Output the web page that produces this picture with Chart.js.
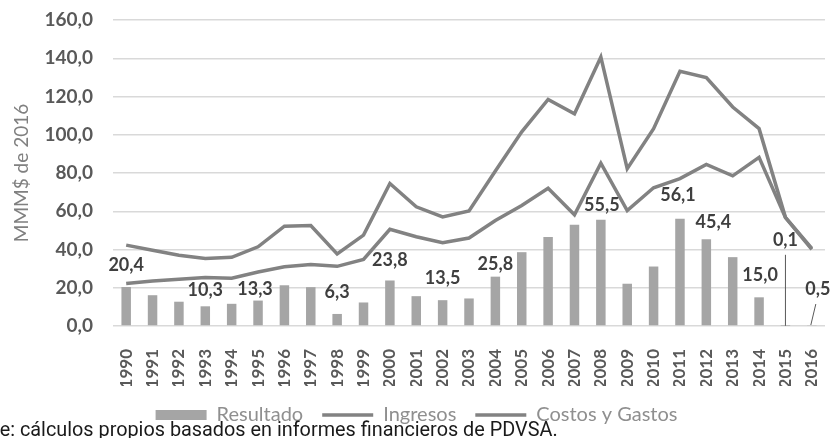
<!DOCTYPE html>
<html>
<head>
<meta charset="utf-8">
<script src="https://cdn.jsdelivr.net/npm/chart.js@4.4.0/dist/chart.umd.min.js"></script>
<style>
  html, body { margin: 0; padding: 0; background: #fff; overflow: hidden; }
  #wrap { position: relative; width: 834px; height: 438px; overflow: hidden; }
  #fuente {
    position: absolute; left: 0; top: 419px;
    font: 20px/20px Roboto, sans-serif;
    color: #1a1a1a; white-space: nowrap;
    transform-origin: 0 0;
  }
</style>
</head>
<body>
<div id="wrap">
  <canvas id="chart" width="834" height="438"></canvas>
  <div id="fuente"><span id="cut">Fuent</span>e: cálculos propios basados en informes financieros de PDVSA.</div>
</div>
<script>
const years = ['1990', '1991', '1992', '1993', '1994', '1995', '1996', '1997', '1998',
  '1999', '2000', '2001', '2002', '2003', '2004', '2005', '2006', '2007', '2008',
  '2009', '2010', '2011', '2012', '2013', '2014', '2015', '2016']

// MMM$ de 2016
const resultado = [20.4, 16.1, 12.7, 10.3, 11.6, 13.3, 21.3, 20.3, 6.3,
  12.3, 23.8, 15.6, 13.5, 14.4, 25.8, 38.6, 46.6, 53.0, 55.5,
  22.1, 31.1, 56.1, 45.4, 36.0, 15.0, 0.1, 0.5]
const ingresos = [42.3, 39.6, 37.0, 35.3, 35.9, 41.4, 52.2, 52.5, 37.7,
  47.5, 74.5, 62.3, 57.0, 60.2, 81.0, 101.5, 118.5, 111.0, 140.6,
  82.3, 103.2, 133.2, 129.9, 114.5, 103.2, 56.8, 40.6]
const costos = [22.2, 23.5, 24.5, 25.3, 25.0, 28.2, 31.0, 32.2, 31.2,
  34.8, 50.6, 46.7, 43.5, 46.0, 55.2, 63.0, 72.0, 58.2, 85.1,
  60.4, 72.3, 77.1, 84.5, 78.5, 88.2, 56.7, 40.1]

const yTicks = [0, 20, 40, 60, 80, 100, 120, 140, 160]

// which bars get a value label, and where it sits relative to the bar top [dx, dy]
const labelShift = {
  '1990': [0, 22], '1993': [0, 16], '1995': [-3, 11], '1998': [0, 22],
  '2000': [0, 20], '2002': [0, 22], '2004': [0, 12], '2008': [1, 15],
  '2011': [-2, 24], '2012': [7, 17], '2014': [1, 22], '2015': [0, 86],
  '2016': [6, 36]
}
// callout lines for the tiny bars [dx1, dy1, dx2, dy2]
const leaders = {
  '2015': [0, 71, 0, 0],
  '2016': [4, 21, -1, 0]
}

const fmt = v => v.toFixed(1).replace('.', ',')

const barLabels = {
  id: 'barLabels',
  afterDatasetsDraw(chart) {
    const ctx = chart.ctx
    const bars = chart.getDatasetMeta(0).data
    ctx.save()
    ctx.strokeStyle = '#595959'
    ctx.lineWidth = 1
    Object.keys(leaders).forEach(year => {
      const bar = bars[years.indexOf(year)]
      const l = leaders[year]
      ctx.beginPath()
      ctx.moveTo(bar.x + l[0], bar.y - l[1])
      ctx.lineTo(bar.x + l[2], bar.y - l[3])
      ctx.stroke()
    })
    ctx.font = 'bold 18px Lato'
    ctx.fillStyle = '#3f3f3f'
    ctx.textAlign = 'center'
    ctx.textBaseline = 'middle'
    years.forEach((year, i) => {
      const s = labelShift[year]
      if (!s) return
      ctx.fillText(fmt(resultado[i]), bars[i].x + s[0], bars[i].y - s[1])
    })
    ctx.restore()
  }
}

var ctx = document.getElementById('chart').getContext('2d')
var chart = new Chart(ctx, {
  type: 'bar',
  data: {
    labels: years,
    datasets: [{
      type: 'bar',
      label: 'Resultado',
      data: resultado,
      backgroundColor: '#a5a5a5',
      barPercentage: 0.72,
      categoryPercentage: 0.5,
      pointStyle: 'rect'
    }, {
      type: 'line',
      label: 'Ingresos',
      data: ingresos,
      borderColor: '#828282',
      backgroundColor: '#828282',
      borderWidth: 3.5,
      pointRadius: 0,
      tension: 0,
      pointStyle: 'line'
    }, {
      type: 'line',
      label: 'Costos y Gastos',
      data: costos,
      borderColor: '#828282',
      backgroundColor: '#828282',
      borderWidth: 3.5,
      pointRadius: 0,
      tension: 0,
      pointStyle: 'line'
    }]
  },
  options: {
    responsive: false,
    animation: false,
    layout: { padding: { left: 8, right: 9, top: 20, bottom: 3 } },
    plugins: {
      tooltip: { enabled: false },
      legend: {
        position: 'bottom',
        labels: {
          usePointStyle: true,
          pointStyleWidth: 51,
          boxHeight: 10,
          padding: 19,
          color: '#8f8f8f',
          font: { family: 'Lato', size: 20 }
        }
      }
    },
    scales: {
      x: {
        grid: { display: false },
        border: { display: false },
        afterFit: axis => {
          axis.height = 60
          axis.paddingLeft = 0
          axis.paddingRight = 0
        },
        ticks: {
          minRotation: 90,
          maxRotation: 90,
          autoSkip: false,
          padding: 15,
          color: '#595959',
          font: { family: 'Lato', size: 17, weight: 'bold' }
        }
      },
      y: {
        min: 0,
        max: 160,
        afterBuildTicks: axis => { axis.ticks = yTicks.map(v => ({ value: v })) },
        afterFit: axis => {
          axis.width = 105
          axis.paddingTop = 0
          axis.paddingBottom = 0
        },
        grid: { color: '#d9d9d9', lineWidth: 1.5, drawTicks: false },
        border: { display: false },
        ticks: {
          padding: 20,
          color: '#595959',
          font: { family: 'Lato', size: 19, weight: 'bold' },
          callback: v => fmt(v)
        },
        title: {
          display: true,
          text: 'MMM$ de 2016',
          color: '#808080',
          font: { family: 'Lato', size: 19 },
          padding: { top: 2, bottom: 0 }
        }
      }
    }
  },
  plugins: [barLabels]
})

// source line: the first letters run off the left edge, the rest is squeezed to width
const fuente = document.getElementById('fuente')
const cut = document.getElementById('cut').getBoundingClientRect().width
const full = fuente.getBoundingClientRect().width
const squeeze = 558 / (full - cut)
fuente.style.transform = 'scaleX(' + squeeze + ')'
fuente.style.left = (-cut * squeeze) + 'px'
</script>
</body>
</html>
